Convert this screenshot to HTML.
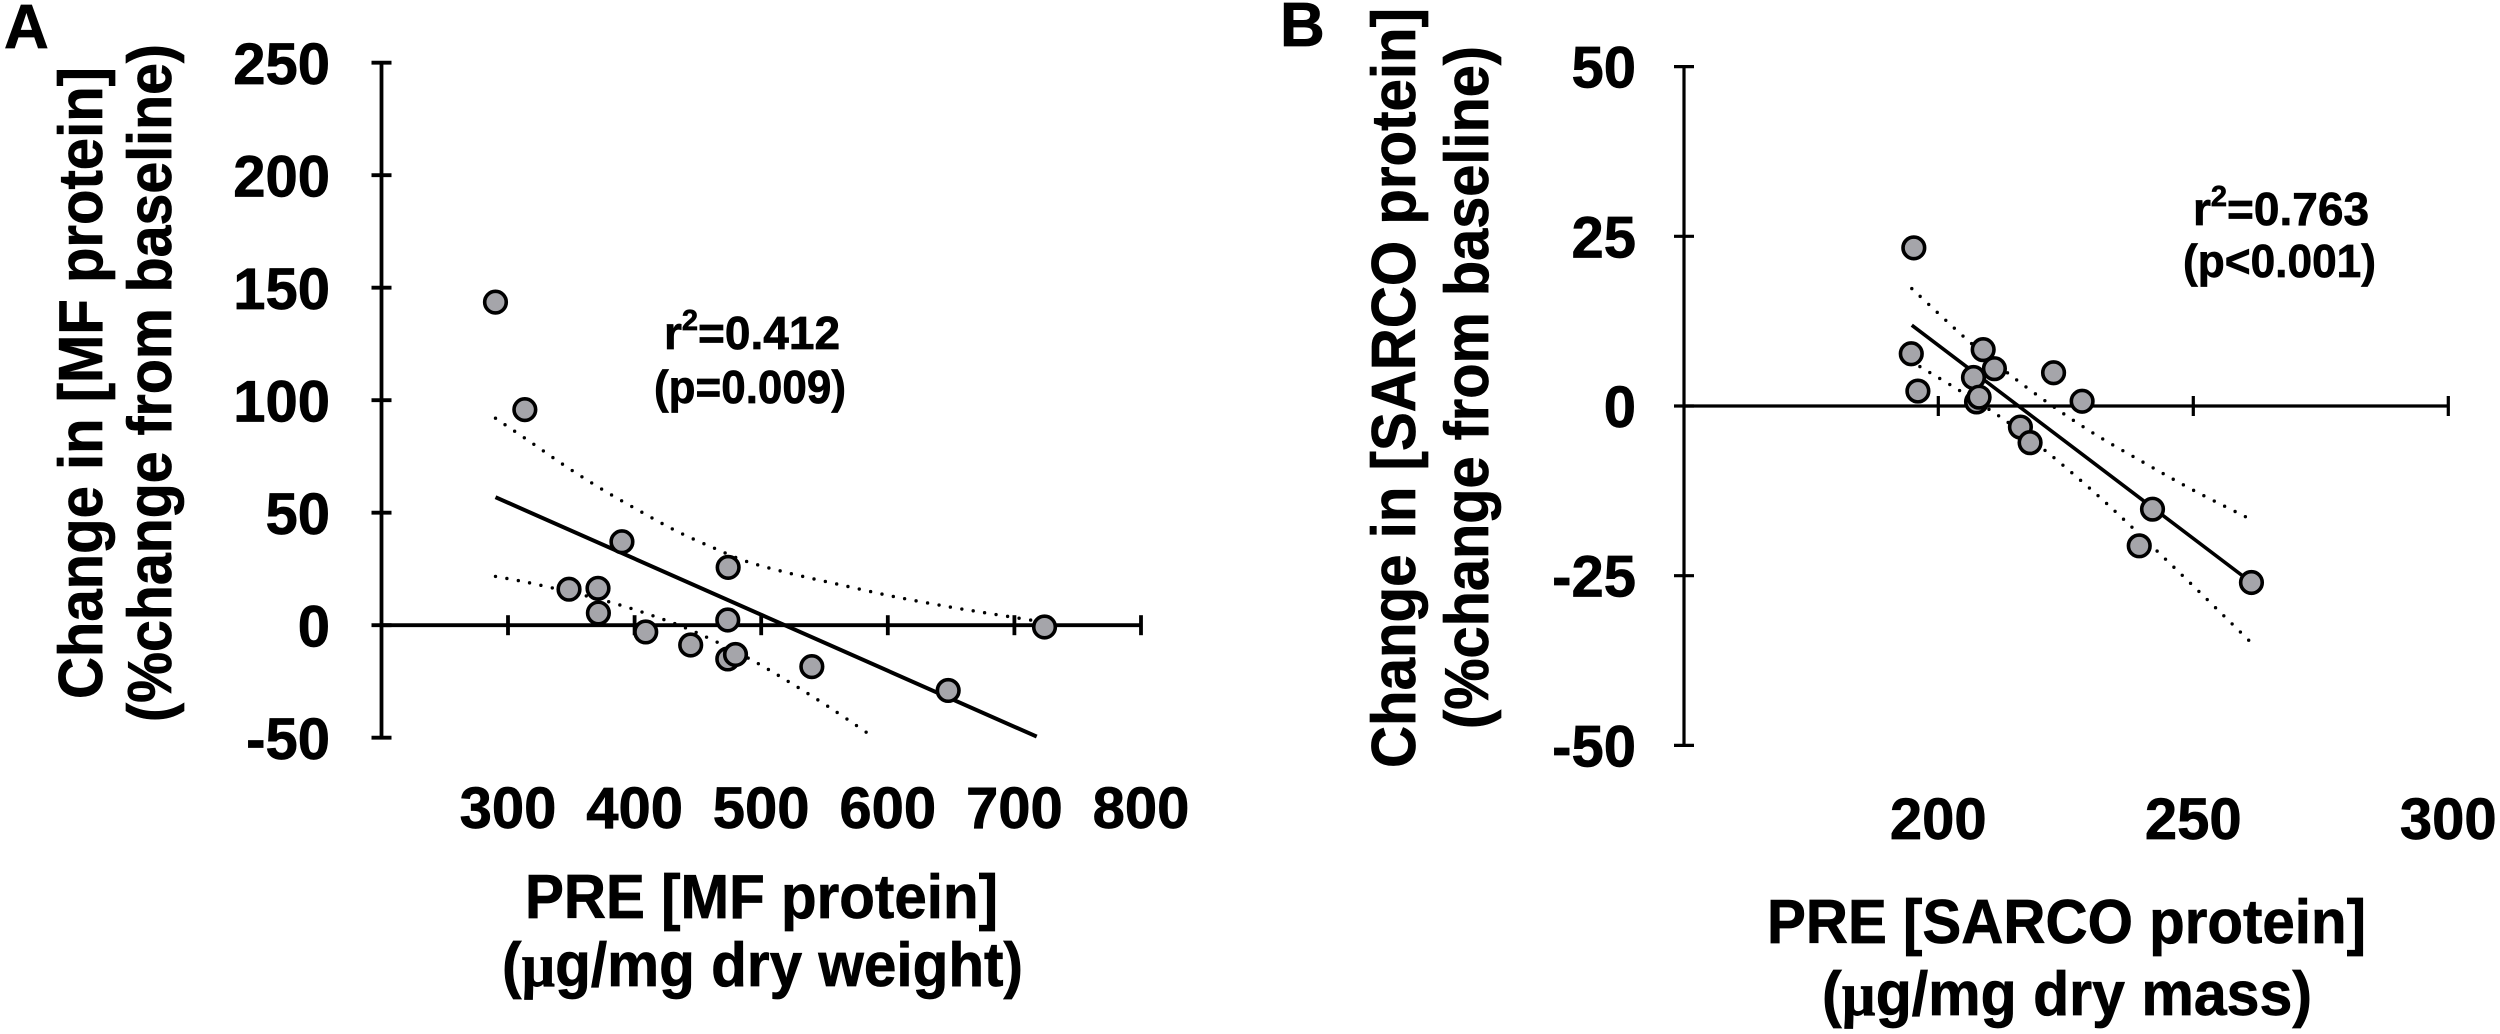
<!DOCTYPE html>
<html lang="en">
<head>
<meta charset="utf-8">
<title>PRE protein versus change in protein</title>
<style>
html,body{margin:0;padding:0;background:#fff;}
svg{display:block;}
text{font-family:"Liberation Sans",sans-serif;font-weight:bold;fill:#000;stroke:#000;stroke-width:0.7px;}
.tick{font-size:58px;}
.title{font-size:62px;}
.note{font-size:46px;}
.letter{font-size:62px;}
.mu{font-family:"Liberation Serif",serif;}
</style>
</head>
<body>
<svg id="figure" xmlns="http://www.w3.org/2000/svg" width="2500" height="1034" viewBox="0 0 2500 1034">
  <rect width="2500" height="1034" fill="#fff"/>
  <text class="letter" x="4" y="48">A</text>
  <text class="letter" x="1280" y="46">B</text>

  <text class="title" transform="translate(102 699) rotate(-90)" textLength="632" lengthAdjust="spacingAndGlyphs">Change in [MF protein]</text>
  <text class="title" transform="translate(171 722) rotate(-90)" textLength="678" lengthAdjust="spacingAndGlyphs">(%change from baseline)</text>
  <text class="title" x="525" y="918" textLength="473" lengthAdjust="spacingAndGlyphs">PRE [MF protein]</text>
  <text class="title" x="502" y="986" textLength="521" lengthAdjust="spacingAndGlyphs">(<tspan class="mu">µ</tspan>g/mg dry weight)</text>
  <text class="note" x="664" y="349">r<tspan font-size="29" dy="-19">2</tspan><tspan dy="19">=0.412</tspan></text>
  <text class="note" x="654" y="403" textLength="192" lengthAdjust="spacingAndGlyphs">(p=0.009)</text>

  <text class="title" transform="translate(1415 768) rotate(-90)" textLength="760" lengthAdjust="spacingAndGlyphs">Change in [SARCO protein]</text>
  <text class="title" transform="translate(1488 729) rotate(-90)" textLength="683" lengthAdjust="spacingAndGlyphs">(%change from baseline)</text>
  <text class="title" x="1767" y="943" textLength="599" lengthAdjust="spacingAndGlyphs">PRE [SARCO protein]</text>
  <text class="title" x="1822" y="1015" textLength="490" lengthAdjust="spacingAndGlyphs">(<tspan class="mu">µ</tspan>g/mg dry mass)</text>
  <text class="note" x="2193" y="225">r<tspan font-size="29" dy="-19">2</tspan><tspan dy="19">=0.763</tspan></text>
  <text class="note" x="2183" y="277" textLength="193" lengthAdjust="spacingAndGlyphs">(p&lt;0.001)</text>
</svg>
<script>
// Panel A data
var aXTicks = [300, 400, 500, 600, 700, 800];
var aYTicks = [250, 200, 150, 100, 50, 0, -50];
var aPointX = [290.1, 313.3, 390, 473.9, 348.2, 371.1, 371.4, 473.6, 408.8, 723.8, 444.3, 473.6, 479.7, 540, 647.7];
var aPointY = [143.6, 95.8, 37.1, 25.7, 16, 16.4, 5.4, 2.3, -3, -0.8, -8.8, -15, -13, -18.4, -29];
var aFitX = [290.1, 717.6];
var aFitY = [56.9, -49.5];
var aUpperX = [290.1, 317.9, 346.2, 374.6, 404.2, 433.3, 465.5, 488.1, 521.6, 562.2, 604.2, 646, 678.3, 713.8];
var aUpperY = [92, 81.4, 70.4, 60.3, 50.7, 41.8, 33.6, 28.4, 23.2, 18, 12.8, 8.4, 5.4, 2.2];
var aLowerX = [290.1, 323.7, 378.5, 422, 452.6, 489.7, 520.3, 555.8, 584.1];
var aLowerY = [21.7, 18, 10.6, 2.7, -4.2, -14.6, -24.6, -37.2, -48];

// Panel B data
var bXTicks = [200, 250, 300];
var bYTicks = [50, 25, 0, -25, -50];
var bPointX = [195.2, 194.7, 196, 222.6, 228.2, 207.5, 208.8, 211, 206.9, 208, 216.1, 218, 242, 239.4, 261.4];
var bPointY = [23.3, 7.7, 2.2, 4.9, 0.7, 0.6, 8.3, 5.5, 4.2, 1.3, -3.1, -5.4, -15.2, -20.6, -26];
var bFitX = [194.8, 261.4];
var bFitY = [11.9, -26];
var bUpperX = [194.8, 205.6, 213.7, 222.2, 230.4, 240.2, 250, 261];
var bUpperY = [17.3, 9.8, 4.8, 0.1, -4, -8.3, -12.4, -16.6];
var bLowerX = [196.4, 203.9, 212.7, 221.2, 230.7, 238.6, 249.3, 261.4];
var bLowerY = [5.8, 2.4, -1.9, -6.7, -12.8, -18.3, -26, -34.9];

var NS = 'http://www.w3.org/2000/svg';
var figure = document.getElementById('figure');

function linearScale(d0, r0, d1, r1) {
  return function (v) { return r0 + (v - d0) * (r1 - r0) / (d1 - d0); };
}

function addLine(name, x1, y1, x2, y2, width) {
  var el = document.createElementNS(NS, 'line');
  
  
  el.setAttribute('x1', x1);
  el.setAttribute('y1', y1);
  el.setAttribute('x2', x2);
  el.setAttribute('y2', y2);
  el.setAttribute('stroke', '#000');
  el.setAttribute('stroke-width', width);
  figure.appendChild(el);
}

function addLabel(name, text, x, y, anchor) {
  var el = document.createElementNS(NS, 'text');
  
  
  el.setAttribute('class', 'tick');
  el.setAttribute('x', x);
  el.setAttribute('y', y);
  el.setAttribute('text-anchor', anchor);
  el.textContent = text;
  figure.appendChild(el);
}

// Catmull-Rom smoothing through the data points
function smoothPath(xs, ys, sx, sy) {
  var pts = xs.map(function (v, i) { return [sx(v), sy(ys[i])]; });
  var d = 'M' + pts[0][0].toFixed(1) + ' ' + pts[0][1].toFixed(1);
  for (var i = 0; i < pts.length - 1; i++) {
    var p0 = pts[Math.max(i - 1, 0)], p1 = pts[i], p2 = pts[i + 1], p3 = pts[Math.min(i + 2, pts.length - 1)];
    d += 'C' + (p1[0] + (p2[0] - p0[0]) / 6).toFixed(1) + ' ' + (p1[1] + (p2[1] - p0[1]) / 6).toFixed(1) + ' ' +
         (p2[0] - (p3[0] - p1[0]) / 6).toFixed(1) + ' ' + (p2[1] - (p3[1] - p1[1]) / 6).toFixed(1) + ' ' +
         p2[0].toFixed(1) + ' ' + p2[1].toFixed(1);
  }
  return d;
}

function addCurve(name, xs, ys, sx, sy, dotted, width) {
  var el = document.createElementNS(NS, 'path');
  
  
  el.setAttribute('d', smoothPath(xs, ys, sx, sy));
  el.setAttribute('fill', 'none');
  el.setAttribute('stroke', '#000');
  el.setAttribute('stroke-width', width);
  if (dotted) {
    el.setAttribute('stroke-linecap', 'round');
    el.setAttribute('stroke-dasharray', '0 11.6');
  }
  figure.appendChild(el);
}

function addPoint(name, cx, cy) {
  var el = document.createElementNS(NS, 'circle');
  
  
  el.setAttribute('cx', cx);
  el.setAttribute('cy', cy);
  el.setAttribute('r', '10.8');
  el.setAttribute('fill', '#a5a5aa');
  el.setAttribute('stroke', '#000');
  el.setAttribute('stroke-width', '3.6');
  figure.appendChild(el);
}

function drawPanel(p, cfg) {
  var sx = cfg.sx, sy = cfg.sy;
  var yVals = cfg.yTicks, xVals = cfg.xTicks;
  addLine(p + '-y-axis', cfg.yAxisX, sy(yVals[0]), cfg.yAxisX, sy(yVals[yVals.length - 1]), cfg.axisWidth);
  addLine(p + '-x-axis', cfg.yAxisX, sy(0), sx(xVals[xVals.length - 1]), sy(0), cfg.axisWidth);
  yVals.forEach(function (v) {
    addLine(p + '-y-tick', cfg.yAxisX - cfg.yTickLeft, sy(v), cfg.yAxisX + cfg.yTickRight, sy(v), cfg.axisWidth);
    addLabel(p + '-y-tick-label', String(v), cfg.yLabelRight, sy(v) + cfg.yLabelDrop, 'end');
  });
  xVals.forEach(function (v) {
    addLine(p + '-x-tick', sx(v), sy(0) - 10, sx(v), sy(0) + 10, cfg.axisWidth);
    addLabel(p + '-x-tick-label', String(v), sx(v), cfg.xLabelY, 'middle');
  });
  addCurve(p + '-upper-confidence-band', cfg.upperX, cfg.upperY, sx, sy, true, 3.4);
  addCurve(p + '-lower-confidence-band', cfg.lowerX, cfg.lowerY, sx, sy, true, 3.4);
  addCurve(p + '-regression-line', cfg.fitX, cfg.fitY, sx, sy, false, cfg.fitWidth);
  cfg.pointX.forEach(function (v, i) {
    addPoint(p + '-data-point', sx(v), sy(cfg.pointY[i]));
  });
}

drawPanel('a', {
  sx: linearScale(300, 508, 800, 1141),
  sy: linearScale(0, 625.2, 250, 62.7),
  xTicks: aXTicks, yTicks: aYTicks,
  yAxisX: 381.5, yTickLeft: 10, yTickRight: 10, axisWidth: 3.8, fitWidth: 4,
  yLabelRight: 330, yLabelDrop: 21.5, xLabelY: 828,
  pointX: aPointX, pointY: aPointY,
  fitX: aFitX, fitY: aFitY,
  upperX: aUpperX, upperY: aUpperY,
  lowerX: aLowerX, lowerY: aLowerY
});

drawPanel('b', {
  sx: linearScale(200, 1938.3, 300, 2448.3),
  sy: linearScale(0, 406, 50, 66.6),
  xTicks: bXTicks, yTicks: bYTicks,
  yAxisX: 1684, yTickLeft: 10, yTickRight: 10, axisWidth: 3.2, fitWidth: 3.6,
  yLabelRight: 1636, yLabelDrop: 21, xLabelY: 839,
  pointX: bPointX, pointY: bPointY,
  fitX: bFitX, fitY: bFitY,
  upperX: bUpperX, upperY: bUpperY,
  lowerX: bLowerX, lowerY: bLowerY
});
</script>
</body>
</html>
